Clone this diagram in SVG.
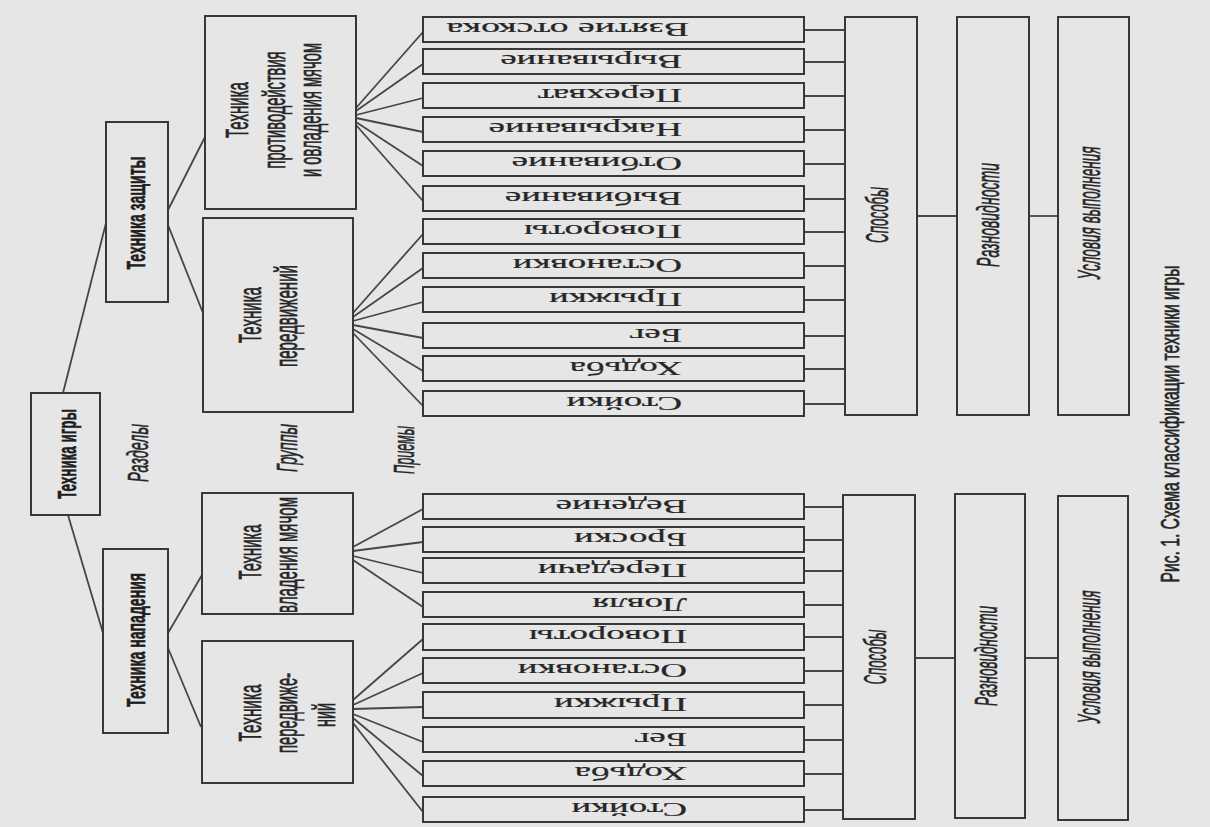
<svg xmlns="http://www.w3.org/2000/svg" width="1210" height="827" viewBox="0 0 1210 827">
<style>
.box{fill:none;stroke:#383838;stroke-width:2}
.ln{stroke:#464646;stroke-width:1.8;fill:none}
.tb{font-family:"Liberation Sans",Arial,sans-serif;font-weight:bold;fill:#1e1e1e;stroke:#1e1e1e;stroke-width:0.3;text-anchor:middle}
.tg{font-family:"Liberation Sans",Arial,sans-serif;fill:#262626;stroke:#262626;stroke-width:0.35;text-anchor:middle}
.ti{font-family:"Liberation Serif","Times New Roman",serif;font-size:18px;fill:#262626;stroke:#262626;stroke-width:0.2}
.it{font-family:"Liberation Sans",Arial,sans-serif;font-style:italic;fill:#262626;stroke:#262626;stroke-width:0.3;text-anchor:middle}
</style>
<rect x="0" y="0" width="1210" height="827" fill="#e6e6e6"/>

<g id="connectors">
<line class="ln" x1="63" y1="393" x2="106" y2="223"/>
<line class="ln" x1="68" y1="515" x2="103" y2="633"/>
<line class="ln" x1="168" y1="210" x2="205" y2="137"/>
<line class="ln" x1="168" y1="225" x2="203" y2="313"/>
<line class="ln" x1="168" y1="633" x2="202" y2="575"/>
<line class="ln" x1="168" y1="648" x2="201" y2="727"/>
<line class="ln" x1="356" y1="108" x2="423" y2="32"/>
<line class="ln" x1="356" y1="111" x2="423" y2="64"/>
<line class="ln" x1="356" y1="115" x2="423" y2="98"/>
<line class="ln" x1="356" y1="118" x2="423" y2="132"/>
<line class="ln" x1="356" y1="122" x2="423" y2="166"/>
<line class="ln" x1="356" y1="125" x2="423" y2="201"/>
<line class="ln" x1="353" y1="313" x2="423" y2="234"/>
<line class="ln" x1="353" y1="317" x2="423" y2="268"/>
<line class="ln" x1="353" y1="321" x2="423" y2="302"/>
<line class="ln" x1="353" y1="325" x2="423" y2="338"/>
<line class="ln" x1="353" y1="329" x2="423" y2="371"/>
<line class="ln" x1="353" y1="333" x2="423" y2="406"/>
<line class="ln" x1="353" y1="547" x2="423" y2="509"/>
<line class="ln" x1="353" y1="551" x2="423" y2="542"/>
<line class="ln" x1="353" y1="556" x2="423" y2="573"/>
<line class="ln" x1="353" y1="560" x2="423" y2="607"/>
<line class="ln" x1="353" y1="700" x2="423" y2="639"/>
<line class="ln" x1="353" y1="705" x2="423" y2="673"/>
<line class="ln" x1="353" y1="709" x2="423" y2="707"/>
<line class="ln" x1="353" y1="714" x2="423" y2="742"/>
<line class="ln" x1="353" y1="718" x2="423" y2="776"/>
<line class="ln" x1="353" y1="723" x2="423" y2="812"/>
<line class="ln" x1="804" y1="30" x2="845" y2="30"/>
<line class="ln" x1="804" y1="62" x2="845" y2="62"/>
<line class="ln" x1="804" y1="96" x2="845" y2="96"/>
<line class="ln" x1="804" y1="130" x2="845" y2="130"/>
<line class="ln" x1="804" y1="164" x2="845" y2="164"/>
<line class="ln" x1="804" y1="199" x2="845" y2="199"/>
<line class="ln" x1="804" y1="232" x2="845" y2="232"/>
<line class="ln" x1="804" y1="266" x2="845" y2="266"/>
<line class="ln" x1="804" y1="300" x2="845" y2="300"/>
<line class="ln" x1="804" y1="336" x2="845" y2="336"/>
<line class="ln" x1="804" y1="369" x2="845" y2="369"/>
<line class="ln" x1="804" y1="404" x2="845" y2="404"/>
<line class="ln" x1="804" y1="507" x2="843" y2="507"/>
<line class="ln" x1="804" y1="540" x2="843" y2="540"/>
<line class="ln" x1="804" y1="571" x2="843" y2="571"/>
<line class="ln" x1="804" y1="605" x2="843" y2="605"/>
<line class="ln" x1="804" y1="637" x2="843" y2="637"/>
<line class="ln" x1="804" y1="671" x2="843" y2="671"/>
<line class="ln" x1="804" y1="705" x2="843" y2="705"/>
<line class="ln" x1="804" y1="740" x2="843" y2="740"/>
<line class="ln" x1="804" y1="774" x2="843" y2="774"/>
<line class="ln" x1="804" y1="810" x2="843" y2="810"/>
<line class="ln" x1="917" y1="216" x2="957" y2="216"/>
<line class="ln" x1="1029" y1="216" x2="1058" y2="216"/>
<line class="ln" x1="915" y1="658" x2="955" y2="658"/>
<line class="ln" x1="1025" y1="658" x2="1058" y2="658"/>
</g>

<g id="root">
<rect class="box" x="31" y="393" width="69" height="122"/>
<text class="tb" font-size="13" textLength="90" lengthAdjust="spacingAndGlyphs" transform="translate(76,454) scale(2,1) rotate(-90)">Техника игры</text>
</g>
<g id="label-razdely"><text class="it" font-size="14.5" textLength="58" lengthAdjust="spacingAndGlyphs" transform="translate(148,453) scale(2,1) rotate(-90)">Разделы</text></g>
<g id="label-gruppy"><text class="it" font-size="14.5" textLength="48" lengthAdjust="spacingAndGlyphs" transform="translate(297,448) scale(2,1) rotate(-90)">Группы</text></g>
<g id="label-priemy"><text class="it" font-size="14.5" textLength="48" lengthAdjust="spacingAndGlyphs" transform="translate(414,450) scale(2,1) rotate(-90)">Приемы</text></g>

<g id="defense">
<rect class="box" x="106" y="122" width="62" height="180"/>
<text class="tb" font-size="12.5" textLength="113" lengthAdjust="spacingAndGlyphs" transform="translate(145,213) scale(2,1) rotate(-90)">Техника защиты</text>
</g>
<g id="attack">
<rect class="box" x="103" y="549" width="65" height="184"/>
<text class="tb" font-size="12.5" textLength="134" lengthAdjust="spacingAndGlyphs" transform="translate(145,640) scale(2,1) rotate(-90)">Техника нападения</text>
</g>

<g id="g-protivo">
<rect class="box" x="205" y="16" width="151" height="193"/>
<text class="tg" font-size="16" textLength="56" lengthAdjust="spacingAndGlyphs" transform="translate(248,110) scale(2,1) rotate(-90)">Техника</text>
<text class="tg" font-size="16" textLength="117" lengthAdjust="spacingAndGlyphs" transform="translate(285,110) scale(2,1) rotate(-90)">противодействия</text>
<text class="tg" font-size="16" textLength="134" lengthAdjust="spacingAndGlyphs" transform="translate(321,110) scale(2,1) rotate(-90)">и овладения мячом</text>
</g>
<g id="g-pered-def">
<rect class="box" x="203" y="218" width="150" height="194"/>
<text class="tg" font-size="16" textLength="56" lengthAdjust="spacingAndGlyphs" transform="translate(261,315) scale(2,1) rotate(-90)">Техника</text>
<text class="tg" font-size="16" textLength="102" lengthAdjust="spacingAndGlyphs" transform="translate(297,316) scale(2,1) rotate(-90)">передвижений</text>
</g>
<g id="g-vladenie">
<rect class="box" x="202" y="493" width="151" height="121"/>
<text class="tg" font-size="16" textLength="55" lengthAdjust="spacingAndGlyphs" transform="translate(261,552) scale(2,1) rotate(-90)">Техника</text>
<text class="tg" font-size="16" textLength="116" lengthAdjust="spacingAndGlyphs" transform="translate(297,555) scale(2,1) rotate(-90)">владения мячом</text>
</g>
<g id="g-pered-att">
<rect class="box" x="202" y="641" width="151" height="142"/>
<text class="tg" font-size="16" textLength="57" lengthAdjust="spacingAndGlyphs" transform="translate(261,713) scale(2,1) rotate(-90)">Техника</text>
<text class="tg" font-size="16" textLength="80" lengthAdjust="spacingAndGlyphs" transform="translate(297,713) scale(2,1) rotate(-90)">передвиже-</text>
<text class="tg" font-size="16" textLength="24" lengthAdjust="spacingAndGlyphs" transform="translate(335,715) scale(2,1) rotate(-90)">ний</text>
</g>

<g id="items-defense">
<g id="d1"><rect class="box" x="423" y="17" width="381" height="25"/><text class="ti" transform="translate(689,23) scale(2.1,1) rotate(180)">Взятие отскока</text></g>
<g id="d2"><rect class="box" x="423" y="49" width="381" height="25"/><text class="ti" transform="translate(682,55) scale(2.05,1) rotate(180)">Вырывание</text></g>
<g id="d3"><rect class="box" x="423" y="83" width="381" height="25"/><text class="ti" transform="translate(682,89) scale(2.05,1) rotate(180)">Перехват</text></g>
<g id="d4"><rect class="box" x="423" y="117" width="381" height="25"/><text class="ti" transform="translate(682,123) scale(2.05,1) rotate(180)">Накрывание</text></g>
<g id="d5"><rect class="box" x="423" y="151" width="381" height="25"/><text class="ti" transform="translate(682,157) scale(2.05,1) rotate(180)">Отбивание</text></g>
<g id="d6"><rect class="box" x="423" y="186" width="381" height="25"/><text class="ti" transform="translate(682,192) scale(2.05,1) rotate(180)">Выбивание</text></g>
<g id="d7"><rect class="box" x="423" y="219" width="381" height="25"/><text class="ti" transform="translate(682,225) scale(2.05,1) rotate(180)">Повороты</text></g>
<g id="d8"><rect class="box" x="423" y="253" width="381" height="25"/><text class="ti" transform="translate(682,259) scale(2.05,1) rotate(180)">Остановки</text></g>
<g id="d9"><rect class="box" x="423" y="287" width="381" height="25"/><text class="ti" transform="translate(682,293) scale(2.05,1) rotate(180)">Прыжки</text></g>
<g id="d10"><rect class="box" x="423" y="323" width="381" height="25"/><text class="ti" transform="translate(682,329) scale(2.05,1) rotate(180)">Бег</text></g>
<g id="d11"><rect class="box" x="423" y="356" width="381" height="25"/><text class="ti" transform="translate(682,362) scale(2.05,1) rotate(180)">Ходьба</text></g>
<g id="d12"><rect class="box" x="423" y="391" width="381" height="25"/><text class="ti" transform="translate(682,397) scale(2.05,1) rotate(180)">Стойки</text></g>
</g>

<g id="items-attack">
<g id="a1"><rect class="box" x="423" y="494" width="381" height="25"/><text class="ti" transform="translate(687,500) scale(2.05,1) rotate(180)">Ведение</text></g>
<g id="a2"><rect class="box" x="423" y="527" width="381" height="25"/><text class="ti" transform="translate(687,533) scale(2.05,1) rotate(180)">Броски</text></g>
<g id="a3"><rect class="box" x="423" y="558" width="381" height="25"/><text class="ti" transform="translate(687,564) scale(2.05,1) rotate(180)">Передачи</text></g>
<g id="a4"><rect class="box" x="423" y="592" width="381" height="25"/><text class="ti" transform="translate(687,598) scale(2.05,1) rotate(180)">Ловля</text></g>
<g id="a5"><rect class="box" x="423" y="624" width="381" height="26"/><text class="ti" transform="translate(687,630) scale(2.05,1) rotate(180)">Повороты</text></g>
<g id="a6"><rect class="box" x="423" y="658" width="381" height="25"/><text class="ti" transform="translate(687,664) scale(2.05,1) rotate(180)">Остановки</text></g>
<g id="a7"><rect class="box" x="423" y="692" width="381" height="26"/><text class="ti" transform="translate(687,698) scale(2.05,1) rotate(180)">Прыжки</text></g>
<g id="a8"><rect class="box" x="423" y="727" width="381" height="25"/><text class="ti" transform="translate(687,733) scale(2.05,1) rotate(180)">Бег</text></g>
<g id="a9"><rect class="box" x="423" y="761" width="381" height="25"/><text class="ti" transform="translate(687,767) scale(2.05,1) rotate(180)">Ходьба</text></g>
<g id="a10"><rect class="box" x="423" y="797" width="381" height="25"/><text class="ti" transform="translate(687,803) scale(2.05,1) rotate(180)">Стойки</text></g>
</g>

<g id="sposoby-top"><rect class="box" x="845" y="17" width="72" height="398"/><text class="it" font-size="15.5" textLength="56" lengthAdjust="spacingAndGlyphs" transform="translate(888,215) scale(2,1) rotate(-90)">Способы</text></g>
<g id="raznov-top"><rect class="box" x="957" y="17" width="72" height="398"/><text class="it" font-size="15.5" textLength="104" lengthAdjust="spacingAndGlyphs" transform="translate(999,215) scale(2,1) rotate(-90)">Разновидности</text></g>
<g id="uslov-top"><rect class="box" x="1058" y="17" width="71" height="398"/><text class="it" font-size="15.5" textLength="133" lengthAdjust="spacingAndGlyphs" transform="translate(1100,213) scale(2,1) rotate(-90)">Условия выполнения</text></g>
<g id="sposoby-bot"><rect class="box" x="843" y="495" width="72" height="324"/><text class="it" font-size="15.5" textLength="55" lengthAdjust="spacingAndGlyphs" transform="translate(886,657) scale(2,1) rotate(-90)">Способы</text></g>
<g id="raznov-bot"><rect class="box" x="955" y="494" width="70" height="324"/><text class="it" font-size="15.5" textLength="100" lengthAdjust="spacingAndGlyphs" transform="translate(997,656) scale(2,1) rotate(-90)">Разновидности</text></g>
<g id="uslov-bot"><rect class="box" x="1058" y="496" width="70" height="324"/><text class="it" font-size="15.5" textLength="133" lengthAdjust="spacingAndGlyphs" transform="translate(1100,657) scale(2,1) rotate(-90)">Условия выполнения</text></g>

<g id="caption"><text class="tg" font-size="13" textLength="317" lengthAdjust="spacingAndGlyphs" transform="translate(1179,424) scale(2,1) rotate(-90)">Рис. 1. Схема классификации техники игры</text></g>
</svg>
